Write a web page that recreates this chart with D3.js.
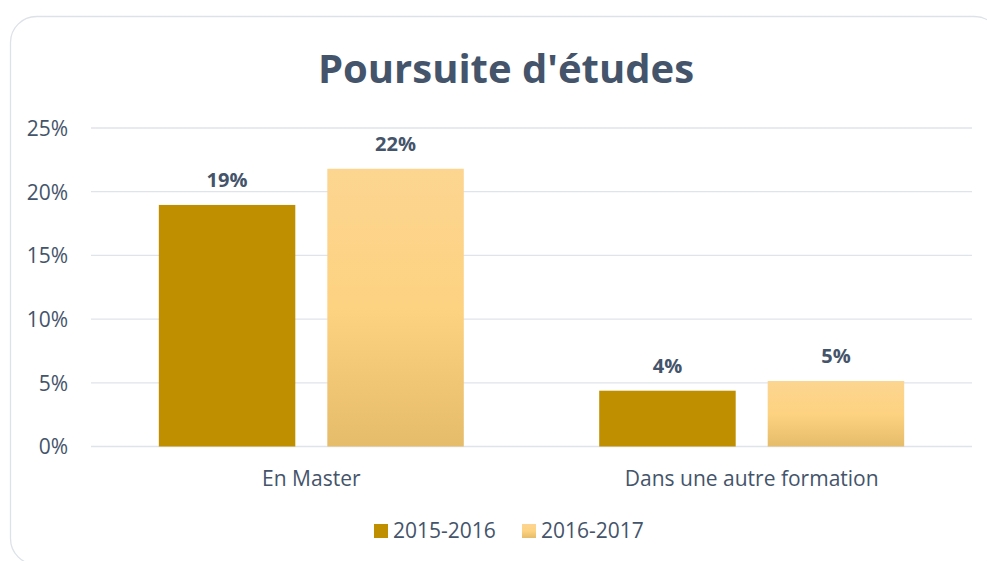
<!DOCTYPE html>
<html><head><meta charset="utf-8">
<script src="https://cdn.jsdelivr.net/npm/d3@7"></script>
<style>
html,body{margin:0;padding:0;background:#fff;}
svg{display:block;font-family:"Open Sans",sans-serif;}
</style></head>
<body>
<svg id="chart" width="987" height="561"></svg>
<script>
const title = "Poursuite d'études";
const categories = ["En Master", "Dans une autre formation"];
const seriesNames = ["2015-2016", "2016-2017"];
const values2015 = [18.96, 4.38];
const values2016 = [21.8, 5.14];
const labels2015 = ["19%", "4%"];
const labels2016 = ["22%", "5%"];
const yTicks = [0, 5, 10, 15, 20, 25];

const svg = d3.select("#chart");
const textColor = "#44546A";

// frame
svg.append("rect").attr("x", 10.5).attr("y", 16.5).attr("width", 990).attr("height", 548)
  .attr("rx", 26).attr("fill", "#fff").attr("stroke", "#DDE1E8").attr("stroke-width", 1.3);

const defs = svg.append("defs");
const grad = defs.append("linearGradient").attr("id", "lightGrad")
  .attr("x1", 0).attr("y1", 0).attr("x2", 0).attr("y2", 1);
grad.append("stop").attr("offset", "0").attr("stop-color", "#FCD590");
grad.append("stop").attr("offset", "0.5").attr("stop-color", "#FDD281");
grad.append("stop").attr("offset", "1").attr("stop-color", "#E5BC6A");

const x0 = d3.scaleBand().domain(categories).range([91, 972]).paddingInner(0.3075).paddingOuter(0.154);
const x1 = d3.scaleBand().domain(seriesNames).range([0, x0.bandwidth()]).paddingInner(0.19);
const y = d3.scaleLinear().domain([0, 25]).range([446.5, 128]);

// gridlines
svg.append("g").selectAll("line").data(yTicks).join("line")
  .attr("x1", 91).attr("x2", 972)
  .attr("y1", d => y(d)).attr("y2", d => y(d))
  .attr("stroke", "#DFE3EA").attr("stroke-width", 1.3);

// y axis labels
const yAxis = d3.axisLeft(y).tickValues(yTicks).tickFormat(d => d + "%").tickSize(0).tickPadding(0);
const ga = svg.append("g").attr("transform", "translate(68,0)").call(yAxis);
ga.select(".domain").remove();
ga.selectAll("text").attr("fill", textColor).attr("font-size", 21).attr("font-family", "Open Sans").attr("dy", "0.35em");

// title
svg.append("text").attr("x", 506).attr("y", 83).attr("text-anchor", "middle")
  .attr("font-size", 40).attr("font-weight", "bold").attr("fill", textColor).text(title);

const series = [
  {name: seriesNames[0], values: values2015, labels: labels2015, fill: "#BF8F00"},
  {name: seriesNames[1], values: values2016, labels: labels2016, fill: "url(#lightGrad)"}
];

series.forEach(s => {
  const g = svg.append("g");
  g.selectAll("rect").data(categories).join("rect")
    .attr("x", c => x0(c) + x1(s.name))
    .attr("width", x1.bandwidth())
    .attr("y", (c, i) => y(s.values[i]))
    .attr("height", (c, i) => y(0) - y(s.values[i]))
    .attr("fill", s.fill);
  g.selectAll("text").data(categories).join("text")
    .attr("x", c => x0(c) + x1(s.name) + x1.bandwidth() / 2)
    .attr("y", (c, i) => y(s.values[i]) - 18)
    .attr("text-anchor", "middle")
    .attr("font-size", 20).attr("font-weight", "bold").attr("fill", textColor)
    .text((c, i) => s.labels[i]);
});

// x axis labels
const xAxis = d3.axisBottom(x0).tickSize(0).tickPadding(0);
const gx = svg.append("g").attr("transform", "translate(0,486)").call(xAxis);
gx.select(".domain").remove();
gx.selectAll("text").attr("fill", textColor).attr("font-size", 21).attr("font-family", "Open Sans").attr("dy", "0");

// legend
const legendItems = [
  {name: seriesNames[0], fill: "#BF8F00", x: 374},
  {name: seriesNames[1], fill: "url(#lightGrad)", x: 522}
];
const lg = svg.append("g");
legendItems.forEach(li => {
  lg.append("rect").attr("x", li.x).attr("y", 524).attr("width", 14).attr("height", 14).attr("fill", li.fill);
  lg.append("text").attr("x", li.x + 19).attr("y", 531).attr("dy", "0.35em")
    .attr("font-size", 21).attr("fill", textColor).text(li.name);
});
</script>
</body></html>
